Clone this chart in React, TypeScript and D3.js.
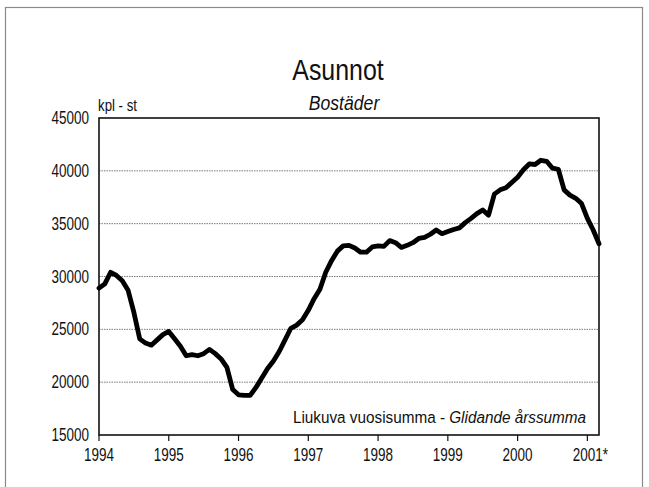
import React from "react";
import * as d3 from "d3";

const title = "Asunnot";
const subtitle = "Bostäder";
const unitLabel = "kpl - st";
const noteFi = "Liukuva vuosisumma - ";
const noteSv = "Glidande årssumma";

// monthly moving annual sums, Jan 1994 .. Mar 2001
const values: number[] = [
  28900, 29300, 30400, 30100, 29600, 28700, 26600, 24100, 23700, 23500, 24000, 24500,
  24800, 24100, 23400, 22500, 22600, 22500, 22700, 23100, 22700, 22200, 21400, 19300,
  18800, 18750, 18750, 19500, 20400, 21300, 22000, 22900, 24000, 25100, 25400, 25900,
  26800, 27900, 28800, 30400, 31500, 32400, 32900, 32950, 32700, 32300, 32300, 32800,
  32900, 32850, 33400, 33200, 32750, 32950, 33200, 33600, 33700, 34000, 34400, 34050,
  34250, 34450, 34600, 35100, 35500, 35950, 36300, 35800, 37800, 38200, 38400, 38900,
  39400, 40100, 40650, 40600, 41000, 40900, 40250, 40150, 38200, 37700, 37400, 36900,
  35500, 34400, 33100,
];

const yearLabels = ["1994", "1995", "1996", "1997", "1998", "1999", "2000", "2001*"];
const yTicks = [15000, 20000, 25000, 30000, 35000, 40000, 45000];

const FONT = "'Liberation Sans', Arial, sans-serif";

function T(props: {
  x: number;
  y: number;
  size: number;
  anchor?: "start" | "middle" | "end";
  italic?: boolean;
  sx: number;
  children: React.ReactNode;
}) {
  return (
    <text
      transform={`translate(${props.x},${props.y}) scale(${props.sx},1)`}
      textAnchor={props.anchor || "start"}
      fontSize={props.size}
      fontStyle={props.italic ? "italic" : "normal"}
      fill="#111"
    >
      {props.children}
    </text>
  );
}

export default function App() {
  const W = 649;
  const H = 487;
  const left = 99;
  const right = 599;
  const top = 118;
  const bottom = 435;

  const x = d3.scaleLinear().domain([0, values.length - 1]).range([left, right]);
  const y = d3.scaleLinear().domain([15000, 45000]).range([bottom, top]);

  const line = d3
    .line<number>()
    .x((_, i) => x(i))
    .y((d) => y(d))
    .curve(d3.curveLinear);

  return (
    <svg
      width={W}
      height={H}
      style={{ position: "absolute", left: 0, top: 0, background: "#fff" }}
      fontFamily={FONT}
    >
      <rect x={0} y={0} width={W} height={H} fill="#fff" />
      {/* outer frame */}
      <rect x={5.5} y={7.5} width={637} height={H + 10} fill="none" stroke="#8a8a8a" strokeWidth={1.2} />

      <T x={338} y={80} size={29} anchor="middle" sx={0.86}>
        {title}
      </T>
      <T x={344} y={110} size={21} anchor="middle" italic sx={0.84}>
        {subtitle}
      </T>
      <T x={98} y={111} size={17} sx={0.78}>
        {unitLabel}
      </T>

      {/* gridlines */}
      {yTicks
        .filter((t) => t !== 15000 && t !== 45000)
        .map((t) => (
          <line
            key={"g" + t}
            x1={left}
            x2={right}
            y1={y(t)}
            y2={y(t)}
            stroke="#7a7a7a"
            strokeWidth={1}
            strokeDasharray="1.5,1"
          />
        ))}

      {/* y labels */}
      {yTicks.map((t) => (
        <T key={"yl" + t} x={89} y={y(t) + 6} size={18} anchor="end" sx={0.75}>
          {t}
        </T>
      ))}

      {/* x ticks & labels */}
      {yearLabels.map((lab, k) => (
        <g key={lab}>
          <line x1={x(k * 12)} x2={x(k * 12)} y1={bottom} y2={bottom + 6} stroke="#111" strokeWidth={1.2} />
          <T x={x(k * 12) + (lab.endsWith("*") ? 3 : 0)} y={461} size={18} anchor="middle" sx={0.75}>
            {lab}
          </T>
        </g>
      ))}

      {/* plot frame */}
      <rect x={left} y={top} width={right - left} height={bottom - top} fill="none" stroke="#111" strokeWidth={1.6} />

      <path d={line(values) || ""} fill="none" stroke="#000" strokeWidth={4.8} strokeLinejoin="round" strokeLinecap="round" />

      <T x={586} y={423} size={17} anchor="end" sx={0.9}>
        {noteFi}
        <tspan fontStyle="italic">{noteSv}</tspan>
      </T>
    </svg>
  );
}
